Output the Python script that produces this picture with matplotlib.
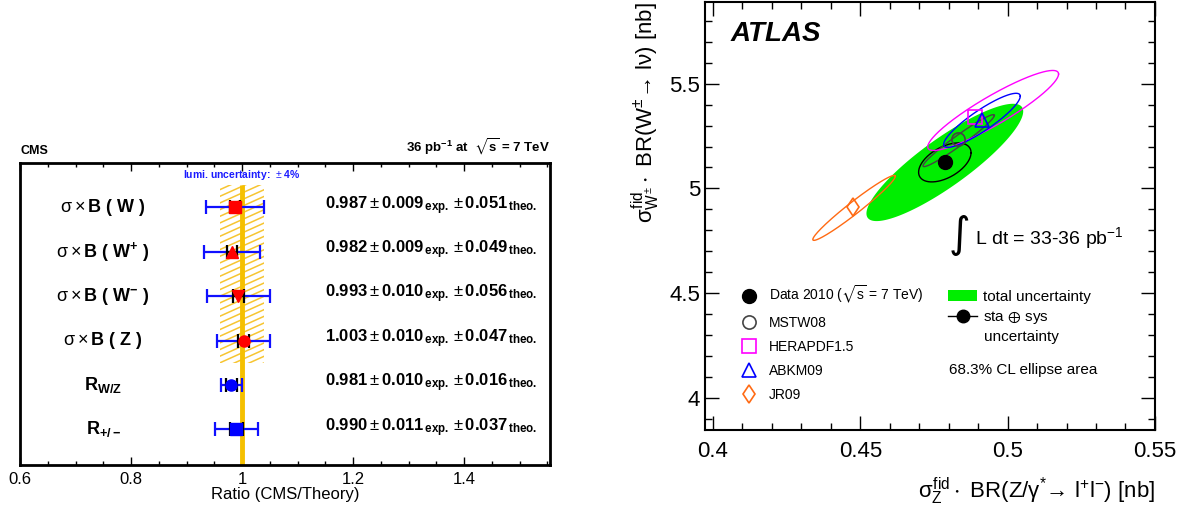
import numpy as np
import matplotlib
matplotlib.use("Agg")
import matplotlib.pyplot as plt
from matplotlib.lines import Line2D
from matplotlib.patches import Patch, Rectangle
from matplotlib.ticker import MultipleLocator

plt.rcParams.update({"font.family": ["Liberation Sans", "DejaVu Sans"],
                     "mathtext.fontset": "custom",
                     "mathtext.rm": "Liberation Sans",
                     "mathtext.it": "Liberation Sans",
                     "mathtext.bf": "Liberation Sans:bold",
                     "mathtext.fallback": "stixsans"})

# ── CMS ratio data ───────────────────────────────────────────────
cms_labels = [r"$\sigma\times\mathbf{B\ (\ W\ )}$",
              r"$\sigma\times\mathbf{B\ (\ W^{+}\ )}$",
              r"$\sigma\times\mathbf{B\ (\ W^{-}\ )}$",
              r"$\sigma\times\mathbf{B\ (\ Z\ )}$",
              r"$\mathbf{R_{W/Z}}$",
              r"$\mathbf{R_{+/-}}$"]
ratio      = [0.987, 0.982, 0.993, 1.003, 0.981, 0.990]
err_exp    = [0.009, 0.009, 0.010, 0.010, 0.010, 0.011]
err_theo   = [0.051, 0.049, 0.056, 0.047, 0.016, 0.037]
markers    = ["s", "^", "v", "o", "o", "s"]
mcolors    = ["red", "red", "red", "red", "blue", "blue"]
lumi_unc   = 0.04

# ── ATLAS W vs Z data ────────────────────────────────────────────
data_x, data_y = 0.4787, 5.124
tot_sx, tot_sy, tot_rho = 0.0266, 0.280, 0.87       # total uncertainty
sys_sx, sys_sy, sys_rho = 0.0089, 0.093, 0.50       # sta (+) sys

pdf_names  = ["MSTW08", "HERAPDF1.5", "ABKM09", "JR09"]
pdf_x      = [0.4832, 0.4890, 0.4913, 0.4477]
pdf_y      = [5.235, 5.339, 5.325, 4.909]
ell_cx     = [0.4834, 0.4951, 0.4913, 0.4479]
ell_cy     = [5.228, 5.372, 5.325, 4.907]
ell_sx     = [0.0121, 0.0222, 0.0130, 0.0140]
ell_sy     = [0.124, 0.191, 0.129, 0.155]
ell_rho    = [0.97, 0.91, 0.89, 0.972]
pdf_colors = ["#444444", "#ff00ff", "#0000ff", "#ff6a13"]
pdf_marks  = ["o", "s", "^", "d"]

fig = plt.figure(figsize=(11.86, 5.12), dpi=100)

# ── Left: CMS ratio plot ─────────────────────────────────────────
axL = fig.add_axes([0.0169, 0.0918, 0.4469, 0.5898])
rows = np.arange(len(ratio), 0, -1)
axL.set_xlim(0.6, 1.555)
axL.set_ylim(0.2, 7.0)

# hatched lumi band (shallow ROOT-like hatching)
band = Rectangle((1 - lumi_unc, 2.5), 2 * lumi_unc, 4.0, fill=False, lw=0)
axL.add_patch(band)
rise = 0.45
for y0 in np.arange(2.5 - rise, 6.5, 0.15):
    ln, = axL.plot([1 - lumi_unc, 1 + lumi_unc], [y0, y0 + rise],
                   color="#f7c531", lw=1.1, zorder=1)
    ln.set_clip_path(band)
axL.vlines(1.0, 0.2, 6.5, color="#f5c000", lw=3.5, zorder=2)
axL.text(1.0, 6.72, r"lumi. uncertainty:  $\pm$ 4%", color="#1a1aff",
         fontsize=7.5, fontweight="bold", ha="center", va="center")

for i, y in enumerate(rows):
    tot = np.hypot(err_exp[i], err_theo[i])
    axL.errorbar(ratio[i], y, xerr=tot, fmt="none", ecolor="#1010ff",
                 elinewidth=1.6, capsize=5, capthick=1.6, zorder=3)
    axL.errorbar(ratio[i], y, xerr=err_exp[i], fmt="none", ecolor="black",
                 elinewidth=1.6, capsize=5, capthick=1.6, zorder=4)
    axL.plot(ratio[i], y, marker=markers[i], color=mcolors[i],
             markersize=8, ls="none", zorder=5)
    axL.text(0.157, y, cms_labels[i], transform=axL.get_yaxis_transform(),
             fontsize=13, ha="center", va="center")
    axL.text(0.575, y + 0.05,
             rf"$\mathbf{{{ratio[i]:.3f}}}\pm\mathbf{{{err_exp[i]:.3f}}}_{{\,\mathbf{{exp.}}}}"
             rf"\pm\mathbf{{{err_theo[i]:.3f}}}_{{\,\mathbf{{theo.}}}}$",
             transform=axL.get_yaxis_transform(), fontsize=12,
             ha="left", va="center")

axL.set_xticks([0.6, 0.8, 1.0, 1.2, 1.4])
axL.set_xticklabels(["0.6", "0.8", "1", "1.2", "1.4"])
axL.xaxis.set_minor_locator(MultipleLocator(0.05))
axL.tick_params(axis="x", which="both", direction="in", top=True,
                labelsize=12, pad=5)
axL.tick_params(axis="x", which="major", length=6, width=1)
axL.tick_params(axis="x", which="minor", length=3, width=1)
axL.set_yticks([])
for s in axL.spines.values():
    s.set_linewidth(2)
axL.set_xlabel("Ratio (CMS/Theory)", fontsize=12, labelpad=0)
axL.text(0.0, 1.02, "CMS", transform=axL.transAxes, fontsize=9,
         fontweight="bold", ha="left", va="bottom")
axL.text(1.0, 1.02, r"36 pb$^{\mathbf{-1}}$ at  $\sqrt{\mathbf{s}}$ = 7 TeV",
         transform=axL.transAxes, fontsize=9.5, fontweight="bold",
         ha="right", va="bottom")

# ── Right: ATLAS correlation ellipses ────────────────────────────
axR = fig.add_axes([0.5944, 0.1602, 0.3794, 0.836])
t = np.linspace(0, 2 * np.pi, 300)


def ellipse(cx, cy, sx, sy, rho):
    x = cx + sx * np.cos(t)
    y = cy + sy * (rho * np.cos(t) + np.sqrt(1 - rho ** 2) * np.sin(t))
    return x, y


axR.fill(*ellipse(data_x, data_y, tot_sx, tot_sy, tot_rho),
         color="#00ee00", lw=0, zorder=1)
axR.plot(*ellipse(data_x, data_y, sys_sx, sys_sy, sys_rho),
         color="black", lw=1, zorder=3)
handles = []
h, = axR.plot(data_x, data_y, "o", color="black", markersize=10, zorder=6,
              label=r"Data 2010 ($\sqrt{s}$ = 7 TeV)")
handles.append(h)
for i in range(len(pdf_names)):
    axR.plot(*ellipse(ell_cx[i], ell_cy[i], ell_sx[i], ell_sy[i], ell_rho[i]),
             color=pdf_colors[i], lw=1, zorder=4)
    h, = axR.plot(pdf_x[i], pdf_y[i], pdf_marks[i], mfc="none",
                  mec=pdf_colors[i], mew=1.2, markersize=9.5, zorder=5,
                  label=pdf_names[i])
    handles.append(h)

axR.set_xlim(0.3973, 0.55)
axR.set_ylim(3.847, 5.89)
axR.set_xticks([0.4, 0.45, 0.5, 0.55])
axR.set_xticklabels(["0.4", "0.45", "0.5", "0.55"])
axR.set_yticks([4, 4.5, 5, 5.5])
axR.set_yticklabels(["4", "4.5", "5", "5.5"])
axR.xaxis.set_minor_locator(MultipleLocator(0.01))
axR.yaxis.set_minor_locator(MultipleLocator(0.1))
axR.tick_params(which="both", direction="in", top=True, right=True,
                labelsize=16, width=1)
axR.tick_params(which="major", length=10)
axR.tick_params(which="minor", length=5)
axR.tick_params(axis="x", pad=8)
for s in axR.spines.values():
    s.set_linewidth(1.5)

axR.set_xlabel(r"$\sigma^{\rm fid}_{Z}\cdot$ BR(Z/γ$^{*}$→ l$^{+}$l$^{-}$) [nb]",
               fontsize=16, loc="right", labelpad=10)
axR.set_ylabel(r"$\sigma^{\rm fid}_{W^{\pm}}\cdot$ BR(W$^{\pm}$→ lν) [nb]",
               fontsize=16, loc="top", labelpad=6)

axR.text(0.056, 0.925, "ATLAS", transform=axR.transAxes, fontsize=20,
         fontweight="bold", style="italic", ha="left", va="center")
axR.text(0.565, 0.455, "\u222b", transform=axR.transAxes, fontsize=30,
         family="DejaVu Sans", ha="center", va="center")
axR.text(0.60, 0.448, r"L dt = 33-36 pb$^{-1}$", transform=axR.transAxes,
         fontsize=14, ha="left", va="center")

leg1 = axR.legend(handles=handles, loc="upper left",
                  bbox_to_anchor=(0.065, 0.357), frameon=False, fontsize=10,
                  handlelength=1.2, handletextpad=0.8, borderpad=0,
                  labelspacing=0.72)
axR.add_artist(leg1)
h_tot = Patch(facecolor="#00ee00", edgecolor="none")
h_sys = Line2D([], [], color="black", marker="o", markersize=9, lw=1)
axR.legend([h_tot, h_sys], ["total uncertainty", r"sta $\oplus$ sys"],
           loc="upper left", bbox_to_anchor=(0.524, 0.345), frameon=False,
           fontsize=11, handlelength=1.9, handletextpad=0.35, borderpad=0,
           labelspacing=0.35, handleheight=0.7)
axR.text(0.62, 0.217, "uncertainty", transform=axR.transAxes, fontsize=11,
         ha="left", va="center")
axR.text(0.542, 0.140, "68.3% CL ellipse area", transform=axR.transAxes,
         fontsize=11, ha="left", va="center")

fig.savefig("out.png", dpi=100)
